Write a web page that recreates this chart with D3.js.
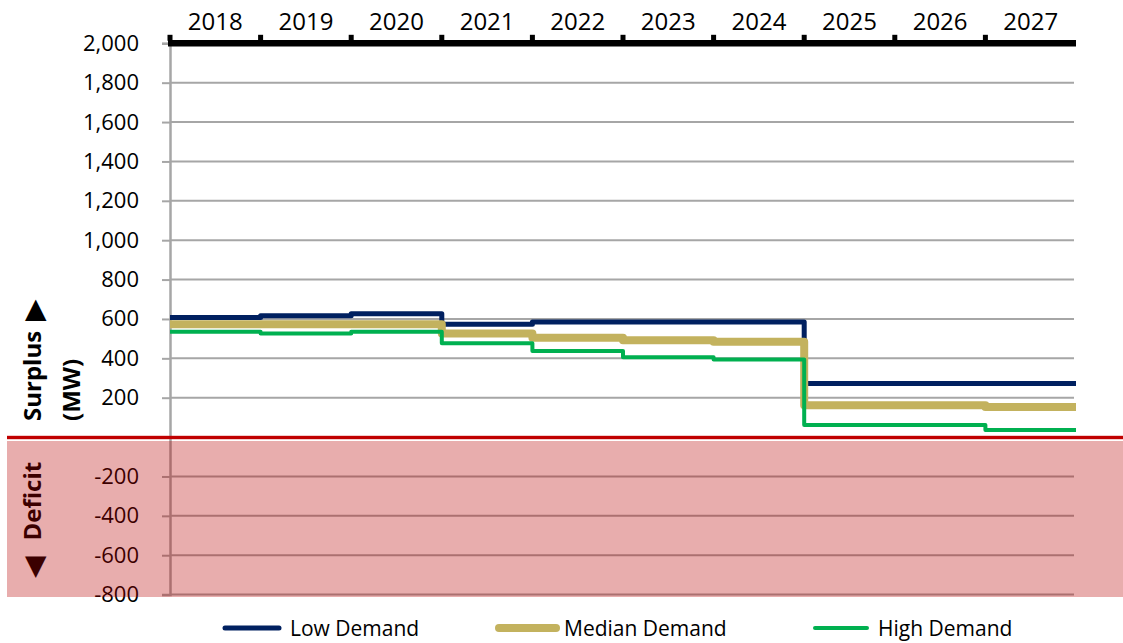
<!DOCTYPE html>
<html>
<head>
<meta charset="utf-8">
<script src="https://cdn.jsdelivr.net/npm/d3@7"></script>
<style>
  html, body { margin: 0; padding: 0; background: #fff; }
  svg { display: block; font-family: "Open Sans", sans-serif; }
</style>
</head>
<body>
<svg id="chart" width="1123" height="643"></svg>
<script>
// Planning years and surplus (MW) under each demand scenario
const years = ["2018", "2019", "2020", "2021", "2022", "2023", "2024", "2025", "2026", "2027"];
const lowDemand    = [607, 616, 626, 573, 584, 584, 584, 272, 272, 272];
const medianDemand = [573, 573, 573, 526, 504, 492, 484, 162, 162, 153];
const highDemand   = [535, 526, 535, 476, 437, 405, 394, 61, 61, 36];
const seriesNames  = ["Low Demand", "Median Demand", "High Demand"];
const yTicks = [-800, -600, -400, -200, 0, 200, 400, 600, 800, 1000, 1200, 1400, 1600, 1800, 2000];

const series = [
  { name: seriesNames[0], values: lowDemand,    color: "#002060", width: 5 },
  { name: seriesNames[1], values: medianDemand, color: "#C3B25E", width: 8 },
  { name: seriesNames[2], values: highDemand,   color: "#00B050", width: 4 }
];

const svg = d3.select("#chart");
const plotLeft = 170, plotRight = 1076, plotTop = 43.3, plotBottom = 594.6;

const x = d3.scaleBand().domain(years).range([plotLeft, plotRight]).padding(0);
const y = d3.scaleLinear().domain([-800, 2000]).range([plotBottom, plotTop]);

const fmt = d3.formatLocale({ decimal: ".", thousands: ",", grouping: [3], currency: ["", ""], minus: "-" }).format(",");

// Horizontal gridlines
svg.append("g")
  .selectAll("line")
  .data(yTicks)
  .join("line")
  .attr("x1", plotLeft).attr("x2", plotRight - 2)
  .attr("y1", d => y(d)).attr("y2", d => y(d))
  .attr("stroke", "#A6A6A6").attr("stroke-width", 2);

// Left value axis
const yAxis = svg.append("g")
  .attr("transform", `translate(${plotLeft},0)`)
  .call(d3.axisLeft(y).tickValues(yTicks).tickSize(8).tickPadding(23)
    .tickFormat(d => d === 0 ? "" : fmt(d)));
yAxis.select(".domain").attr("stroke", "#A6A6A6").attr("stroke-width", 2.5);
yAxis.selectAll(".tick line").attr("stroke", "#A6A6A6").attr("stroke-width", 2);
yAxis.selectAll(".tick text").attr("fill", "#000").style("font-size", "22px")
  .style("font-family", "'Open Sans', sans-serif");

// Step lines, one per scenario
const line = d3.line()
  .x(d => d[0]).y(d => d[1])
  .curve(d3.curveStepAfter);

svg.append("g")
  .selectAll("path")
  .data(series)
  .join("path")
  .attr("d", s => {
    const pts = years.map((yr, i) => [x(yr), y(s.values[i])]);
    pts.push([plotRight, y(s.values[s.values.length - 1])]);
    return line(pts);
  })
  .attr("fill", "none")
  .attr("stroke", s => s.color)
  .attr("stroke-width", s => s.width)
  .attr("stroke-linejoin", "round");

// Year axis along the top
const xAxis = svg.append("g")
  .attr("transform", `translate(0,${plotTop})`)
  .call(d3.axisTop(x).tickSize(0).tickPadding(13));
xAxis.select(".domain").remove();
xAxis.selectAll(".tick text").attr("fill", "#000").style("font-size", "24px")
  .style("font-family", "'Open Sans', sans-serif");

svg.append("line")
  .attr("x1", plotLeft - 2).attr("x2", plotRight)
  .attr("y1", plotTop).attr("y2", plotTop)
  .attr("stroke", "#000").attr("stroke-width", 6.5);

svg.append("g")
  .selectAll("rect")
  .data(years)
  .join("rect")
  .attr("x", d => x(d) - 2.5).attr("y", plotTop - 8.5)
  .attr("width", 5).attr("height", 6)
  .attr("fill", "#000");

// Axis titles
const surplus = svg.append("text")
  .attr("transform", "translate(41,421) rotate(-90)")
  .attr("text-anchor", "start")
  .style("font-size", "24px").style("font-weight", "bold")
  .attr("fill", "#000");
surplus.append("tspan").text("Surplus");
surplus.append("tspan").style("font-size", "28px").style("font-family", "'DejaVu Sans', sans-serif")
  .attr("dx", 10).attr("dy", 1.5).text("\u25B6");

svg.append("text")
  .attr("transform", "translate(80,421) rotate(-90)")
  .attr("text-anchor", "start")
  .style("font-size", "24px").style("font-weight", "bold")
  .attr("fill", "#000")
  .text("(MW)");

const deficit = svg.append("text")
  .attr("transform", "translate(41,578) rotate(-90)")
  .attr("text-anchor", "start")
  .style("font-size", "24px").style("font-weight", "bold")
  .attr("fill", "#000");
deficit.append("tspan").style("font-size", "28px").style("font-family", "'DejaVu Sans', sans-serif")
  .attr("dy", 1.5).text("\u25C0");
deficit.append("tspan").attr("dx", 16).attr("dy", -1.5).text("Deficit");

// Deficit zone shading and zero line
svg.append("rect")
  .attr("x", 7).attr("y", 441)
  .attr("width", 1123 - 7).attr("height", 597 - 441)
  .attr("fill", "rgb(183,0,0)").attr("fill-opacity", 0.32);

svg.append("rect")
  .attr("x", 7).attr("y", 435.8)
  .attr("width", 1123 - 7).attr("height", 3.4)
  .attr("fill", "#C00000");

// Legend
const legendLayout = [
  { x1: 225, x2: 279, tx: 290 },
  { x1: 499, x2: 556, tx: 564 },
  { x1: 815, x2: 867, tx: 878 }
];
const legend = svg.append("g")
  .selectAll("g")
  .data(series)
  .join("g");
legend.append("line")
  .attr("x1", (d, i) => legendLayout[i].x1)
  .attr("x2", (d, i) => legendLayout[i].x2)
  .attr("y1", 628).attr("y2", 628)
  .attr("stroke", d => d.color)
  .attr("stroke-width", d => d.width)
  .attr("stroke-linecap", "round");
legend.append("text")
  .attr("x", (d, i) => legendLayout[i].tx)
  .attr("y", 636)
  .style("font-size", "21px")
  .attr("fill", "#000")
  .text(d => d.name);
</script>
</body>
</html>
